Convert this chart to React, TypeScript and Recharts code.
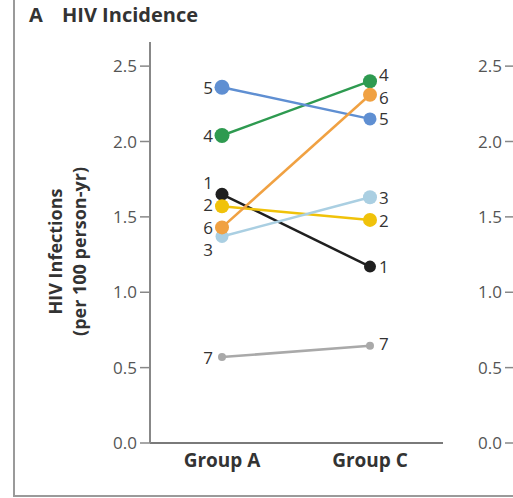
import React from 'react';
import { LineChart, Line, XAxis, YAxis, LabelList } from 'recharts';

const categories = ['Group A', 'Group C'];
const siteNames = ['1', '2', '3', '4', '5', '6', '7'];
const site1 = [1.65, 1.17];
const site2 = [1.57, 1.48];
const site3 = [1.37, 1.63];
const site4 = [2.04, 2.4];
const site5 = [2.36, 2.15];
const site6 = [1.43, 2.31];
const site7 = [0.57, 0.645];
const yTicks = [0, 0.5, 1.0, 1.5, 2.0, 2.5];

const siteValues = [site1, site2, site3, site4, site5, site6, site7];

const data = categories.map((c, i) => {
  const row: any = { group: c };
  siteNames.forEach((n, k) => {
    row['s' + n] = siteValues[k][i];
  });
  return row;
});

// styles: color, dot radius per point, label nudges [groupA, groupC]
const styles: Record<string, { color: string; r: number[]; dy: number[] }> = {
  '1': { color: '#1f1f1f', r: [6.5, 6], dy: [-12, 0] },
  '2': { color: '#f0c20a', r: [7, 7], dy: [-2, 1] },
  '3': { color: '#aacfe2', r: [6.5, 7], dy: [13, 0] },
  '4': { color: '#2e9a50', r: [7.5, 7], dy: [0, -7] },
  '5': { color: '#5f8fd2', r: [7.5, 6.5], dy: [0, 0] },
  '6': { color: '#f0a142', r: [7, 7], dy: [0, 3] },
  '7': { color: '#a9a9a9', r: [4, 4], dy: [0, -2] },
};

const FONT = '"Open Sans", "Noto Sans", sans-serif';

const renderLabel = (name: string) => (p: any) => {
  const st = styles[name];
  const idx = p.index;
  const left = idx === 0;
  return (
    <text
      x={left ? p.x - 9 : p.x + 9}
      y={p.y + st.dy[idx]}
      textAnchor={left ? 'end' : 'start'}
      dominantBaseline="central"
      fontFamily={FONT}
      fontSize={17}
      fill="#333"
    >
      {name}
    </text>
  );
};

const renderDot = (name: string) => (p: any) => {
  const st = styles[name];
  return (
    <circle
      key={name + '-' + p.index}
      cx={p.cx}
      cy={p.cy}
      r={st.r[p.index]}
      fill={st.color}
      stroke="none"
    />
  );
};

const yLabel = (props: any) => {
  const vb = props.viewBox || { x: 60, y: 42, height: 401 };
  const cy = vb.y + vb.height / 2 + 9;
  const x1 = 55;
  const x2 = 79;
  return (
    <g>
      <text
        x={x1}
        y={cy}
        transform={`rotate(-90 ${x1} ${cy})`}
        textAnchor="middle"
        dominantBaseline="central"
        fontFamily={FONT}
        fontWeight={700}
        fontSize={18}
        fill="#333"
      >
        HIV Infections
      </text>
      <text
        x={x2}
        y={cy}
        transform={`rotate(-90 ${x2} ${cy})`}
        textAnchor="middle"
        dominantBaseline="central"
        fontFamily={FONT}
        fontWeight={700}
        fontSize={18}
        fill="#333"
      >
        (per 100 person-yr)
      </text>
    </g>
  );
};

const tickStyle = { fontFamily: FONT, fontSize: 17, fill: '#555' };

export default function App() {
  return (
    <div
      style={{
        position: 'absolute',
        left: 0,
        top: 0,
        width: 513,
        height: 498,
        overflow: 'hidden',
        background: '#fff',
      }}
    >
      <div
        style={{
          position: 'absolute',
          left: 13,
          top: 0,
          width: 600,
          height: 497,
          boxSizing: 'border-box',
          borderLeft: '2px solid #9a9a9a',
          borderBottom: '2px solid #9a9a9a',
        }}
      />
      <div
        style={{
          position: 'absolute',
          left: 29,
          top: 5,
          lineHeight: '20px',
          fontFamily: FONT,
          fontWeight: 700,
          fontSize: 20,
          color: '#333',
          whiteSpace: 'nowrap',
        }}
      >
        A
      </div>
      <div
        style={{
          position: 'absolute',
          left: 62,
          top: 5,
          lineHeight: '20px',
          fontFamily: FONT,
          fontWeight: 700,
          fontSize: 20,
          color: '#333',
          whiteSpace: 'nowrap',
        }}
      >
        HIV Incidence
      </div>
      <div style={{ position: 'absolute', left: 0, top: 0 }}>
        <LineChart
          width={513}
          height={498}
          data={data}
          margin={{ top: 42, right: 70, bottom: 25, left: 60 }}
        >
          <XAxis
            dataKey="group"
            padding={{ left: 72, right: 73 }}
            axisLine={{ stroke: '#7a7a7a', strokeWidth: 2 }}
            tickLine={false}
            tickSize={0}
            tickMargin={11}
            height={30}
            tick={{ fontFamily: FONT, fontSize: 19, fontWeight: 700, fill: '#333' }}
          />
          <YAxis
            type="number"
            domain={[0, 2.66]}
            ticks={yTicks}
            width={90}
            tickFormatter={(v: number) => v.toFixed(1)}
            axisLine={{ stroke: '#888', strokeWidth: 2 }}
            tickLine={{ stroke: '#888', strokeWidth: 1.5 }}
            tickSize={10}
            tickMargin={3}
            tick={tickStyle}
            label={{ content: yLabel }}
          />
          {siteNames.map((n) => (
            <Line
              key={n}
              dataKey={'s' + n}
              stroke={styles[n].color}
              strokeWidth={2.5}
              dot={renderDot(n)}
              activeDot={false}
              isAnimationActive={false}
            >
              <LabelList dataKey={'s' + n} content={renderLabel(n)} />
            </Line>
          ))}
        </LineChart>
      </div>
      <div style={{ position: 'absolute', left: 455, top: 0 }}>
        <LineChart
          width={200}
          height={498}
          data={data}
          margin={{ top: 42, right: 10, bottom: 55, left: 0 }}
        >
          <XAxis dataKey="group" hide />
          <YAxis
            type="number"
            domain={[0, 2.66]}
            ticks={yTicks}
            width={60}
            tickFormatter={(v: number) => v.toFixed(1)}
            axisLine={{ stroke: '#888', strokeWidth: 2 }}
            tickLine={{ stroke: '#888', strokeWidth: 1.5 }}
            tickSize={10}
            tickMargin={3}
            tick={tickStyle}
          />
          <Line dataKey="s1" stroke="none" dot={false} isAnimationActive={false} />
        </LineChart>
      </div>
    </div>
  );
}
